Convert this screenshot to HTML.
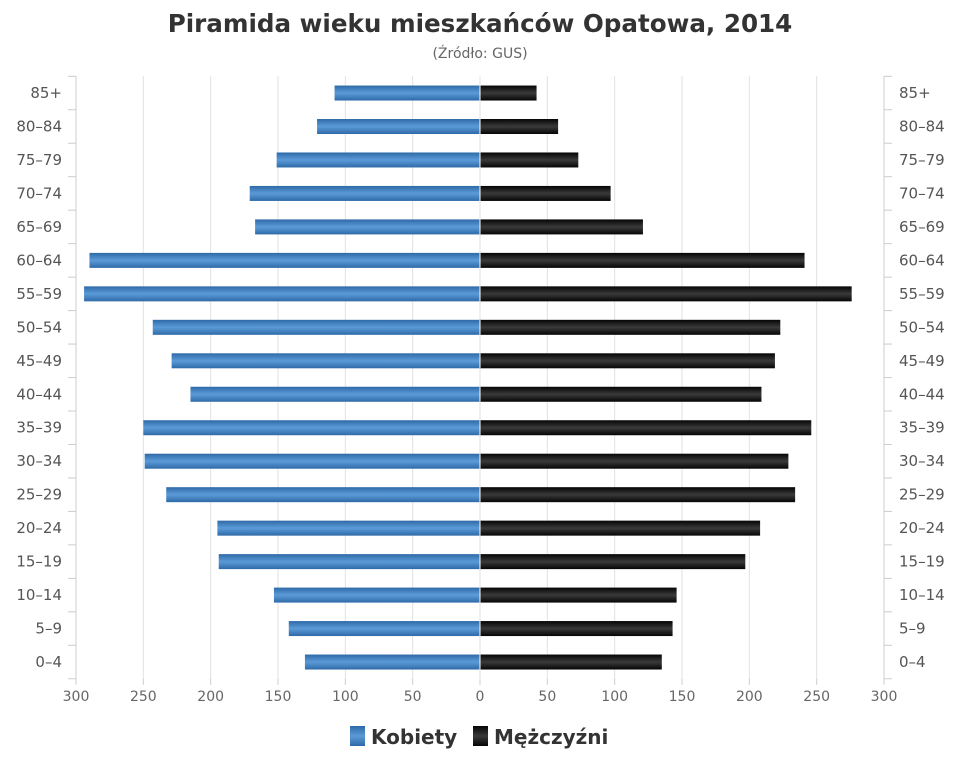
<!DOCTYPE html>
<html><head><meta charset="utf-8"><style>
body{margin:0;background:#fff;}
svg{display:block;font-family:"DejaVu Sans","Liberation Sans",sans-serif;}
</style></head><body>
<svg id="s" width="960" height="768" xmlns="http://www.w3.org/2000/svg">
<defs>
<linearGradient id="gb" x1="0" y1="0" x2="0" y2="1">
<stop offset="0" stop-color="#2f6aa8"/><stop offset="0.5" stop-color="#5b9ad8"/><stop offset="1" stop-color="#2f6aa8"/></linearGradient>
<linearGradient id="gk" x1="0" y1="0" x2="0" y2="1">
<stop offset="0" stop-color="#050505"/><stop offset="0.5" stop-color="#3a3a3a"/><stop offset="1" stop-color="#050505"/></linearGradient>
</defs>
<text x="480" y="32" text-anchor="middle" font-size="24.6" font-weight="bold" fill="#333">Piramida wieku mieszkańców Opatowa, 2014</text>
<text x="480" y="58" text-anchor="middle" font-size="14" fill="#666">(Źródło: GUS)</text>
<g id="g"></g>
<rect x="350" y="726" width="15" height="20" fill="url(#gb)"/>
<text x="371" y="744" font-size="20" font-weight="bold" fill="#333">Kobiety</text>
<rect x="473" y="726" width="15" height="20" fill="url(#gk)"/>
<text x="494" y="744" font-size="20" font-weight="bold" fill="#333">Mężczyźni</text>
</svg>
<script>
var g=document.getElementById('g'),h='';
var L=76,R=884,C=480,k=404/300,top0=76.3,st=33.47;
for(var v=-300;v<=300;v+=50){var x=C+v*k;
h+='<line x1="'+x+'" y1="'+top0+'" x2="'+x+'" y2="'+(top0+18*st)+'" stroke="#e2e2e2"/>';
h+='<line x1="'+x+'" y1="'+(top0+18*st)+'" x2="'+x+'" y2="'+(top0+18*st+6)+'" stroke="#ccc"/>';
h+='<text x="'+x+'" y="'+(top0+18*st+22)+'" text-anchor="middle" font-size="14" fill="#666">'+Math.abs(v)+'</text>';}
h+='<line x1="'+L+'" y1="'+top0+'" x2="'+L+'" y2="'+(top0+18*st)+'" stroke="#ccc"/>';
h+='<line x1="'+R+'" y1="'+top0+'" x2="'+R+'" y2="'+(top0+18*st)+'" stroke="#ccc"/>';
for(var i=0;i<=18;i++){var y=top0+i*st;
h+='<line x1="'+(L-8)+'" y1="'+y+'" x2="'+L+'" y2="'+y+'" stroke="#ccc"/>';
h+='<line x1="'+R+'" y1="'+y+'" x2="'+(R+8)+'" y2="'+y+'" stroke="#ccc"/>';}
var lab=['85+','80–84','75–79','70–74','65–69','60–64','55–59','50–54','45–49','40–44','35–39','30–34','25–29','20–24','15–19','10–14','5–9','0–4'];
var w=[108,121,151,171,167,290,294,243,229,215,250,249,233,195,194,153,142,130];
var m=[42,58,73,97,121,241,276,223,219,209,246,229,234,208,197,146,143,135];
for(var i=0;i<18;i++){var cy=top0+(i+0.5)*st;
h+='<text x="'+(L-14)+'" y="'+(cy+5)+'" text-anchor="end" font-size="15" fill="#555">'+lab[i]+'</text>';
h+='<text x="'+(R+15)+'" y="'+(cy+5)+'" font-size="15" fill="#555">'+lab[i]+'</text>';
h+='<rect x="'+(C-w[i]*k)+'" y="'+(cy-7.5)+'" width="'+(w[i]*k)+'" height="15" fill="url(#gb)"/>';
h+='<rect x="'+C+'" y="'+(cy-7.5)+'" width="'+(m[i]*k)+'" height="15" fill="url(#gk)"/>';
h+='<line x1="'+C+'" y1="'+(cy-7.5)+'" x2="'+C+'" y2="'+(cy+7.5)+'" stroke="#fff"/>';}
g.innerHTML=h;
</script>
</body></html>
